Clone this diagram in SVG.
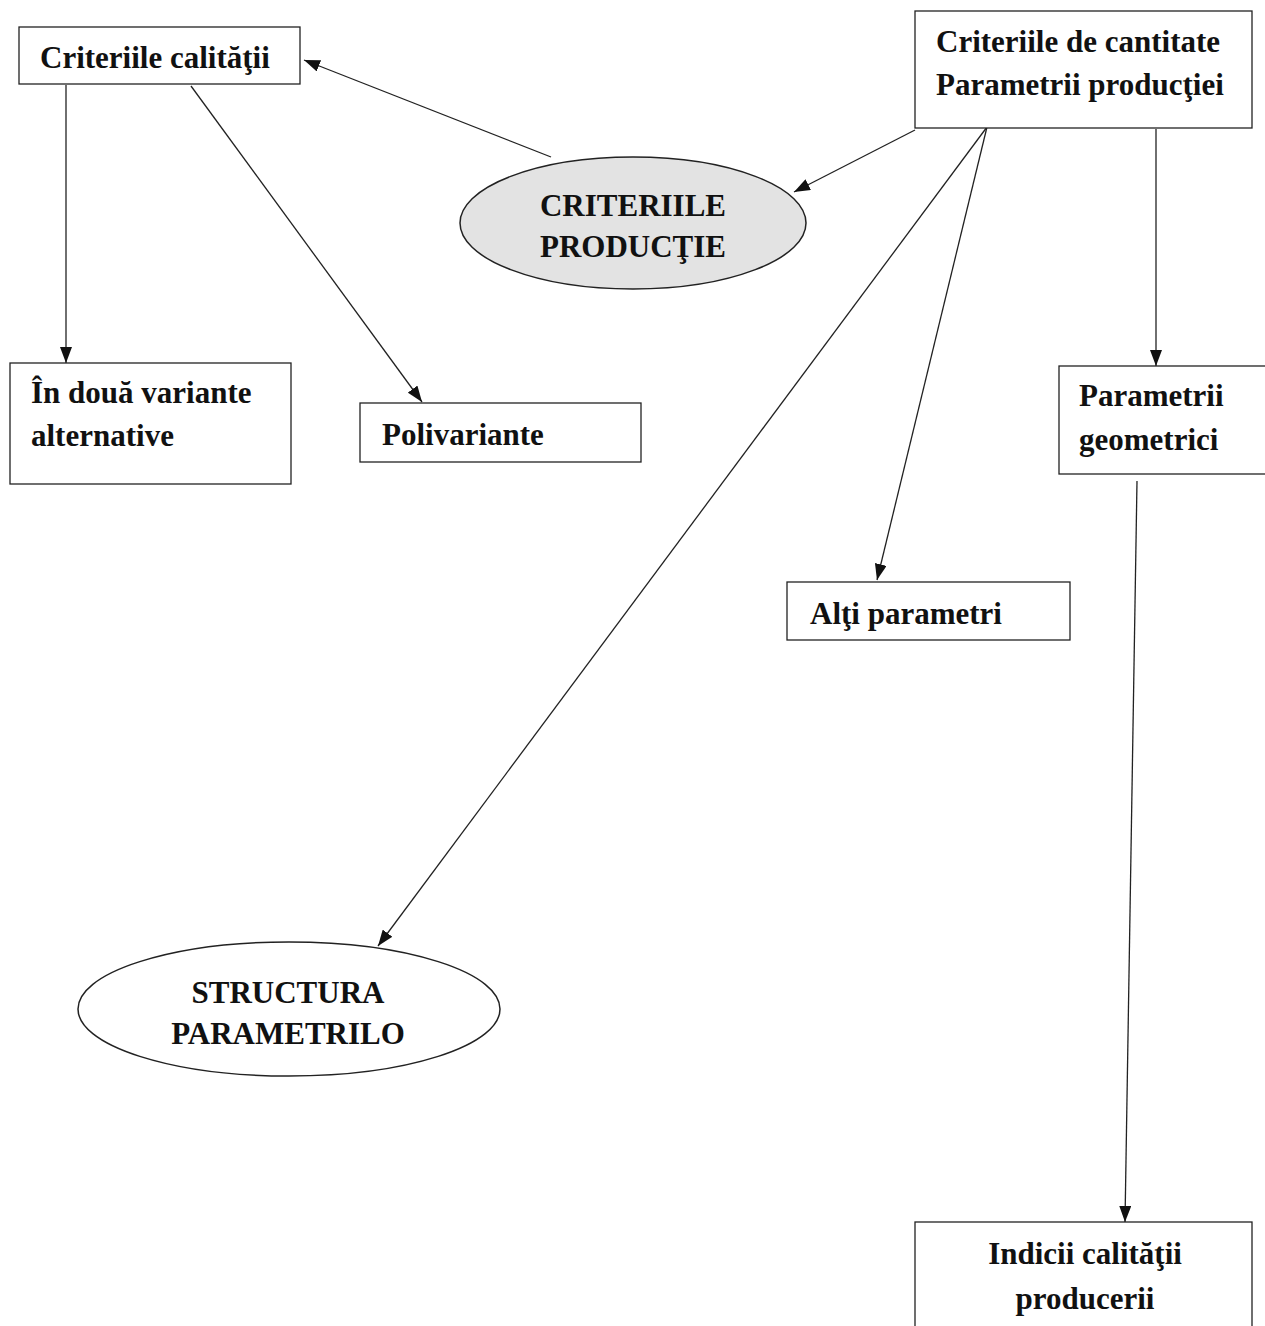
<svg xmlns="http://www.w3.org/2000/svg" width="1265" height="1326" viewBox="0 0 1265 1326">
<style>
.box{fill:#fff;stroke:#222;stroke-width:1.3}
.t{font-family:"Liberation Serif","Times New Roman",serif;font-weight:bold;font-size:31px;fill:#111}
.c{text-anchor:middle}
.ln{stroke:#222;stroke-width:1.3;fill:none;marker-end:url(#ah)}
</style>
<defs>
<marker id="ah" viewBox="0 0 16 12" refX="16" refY="6" markerWidth="16" markerHeight="12" markerUnits="userSpaceOnUse" orient="auto">
<path d="M0,0 L16,6 L0,12 Z" fill="#111"/>
</marker>
</defs>
<rect width="1265" height="1326" fill="#fff"/>
<g id="connectors">
<line class="ln" x1="551" y1="157" x2="304" y2="60"/>
<line class="ln" x1="915" y1="130" x2="794" y2="192"/>
<line class="ln" x1="66" y1="85" x2="66" y2="363"/>
<line class="ln" x1="191" y1="86" x2="422" y2="402"/>
<line class="ln" x1="987" y1="127" x2="378" y2="946"/>
<line class="ln" x1="987" y1="127" x2="877" y2="580"/>
<line class="ln" x1="1156" y1="129" x2="1156" y2="366"/>
<line class="ln" x1="1137" y1="481" x2="1125" y2="1222"/>
</g>
<g id="n-calitatii">
<rect class="box" x="19" y="27" width="281" height="57"/>
<text class="t" x="40" y="68">Criteriile calităţii</text>
</g>
<g id="n-cantitate">
<rect class="box" x="915" y="11" width="337" height="117"/>
<text class="t" x="936" y="52">Criteriile de cantitate</text>
<text class="t" x="936" y="95">Parametrii producţiei</text>
</g>
<g id="n-criteriile-productie">
<ellipse cx="633" cy="223" rx="173" ry="66" fill="#e3e3e3" stroke="#222" stroke-width="1.5"/>
<text class="t c" x="633" y="216">CRITERIILE</text>
<text class="t c" x="633" y="257">PRODUCŢIE</text>
</g>
<g id="n-doua-variante">
<rect class="box" x="10" y="363" width="281" height="121"/>
<text class="t" x="31" y="403">În două variante</text>
<text class="t" x="31" y="446">alternative</text>
</g>
<g id="n-polivariante">
<rect class="box" x="360" y="403" width="281" height="59"/>
<text class="t" x="382" y="445">Polivariante</text>
</g>
<g id="n-geometrici">
<rect class="box" x="1059" y="366" width="220" height="108"/>
<text class="t" x="1079" y="406">Parametrii</text>
<text class="t" x="1079" y="450">geometrici</text>
</g>
<g id="n-alti">
<rect class="box" x="787" y="582" width="283" height="58"/>
<text class="t" x="810" y="624">Alţi parametri</text>
</g>
<g id="n-structura">
<ellipse cx="289" cy="1009" rx="211" ry="67" fill="#fff" stroke="#222" stroke-width="1.5"/>
<text class="t c" x="288" y="1003">STRUCTURA</text>
<text class="t c" x="288" y="1044">PARAMETRILO</text>
</g>
<g id="n-indicii">
<rect class="box" x="915" y="1222" width="337" height="120"/>
<text class="t c" x="1085" y="1264">Indicii calităţii</text>
<text class="t c" x="1085" y="1309">producerii</text>
</g>
</svg>
